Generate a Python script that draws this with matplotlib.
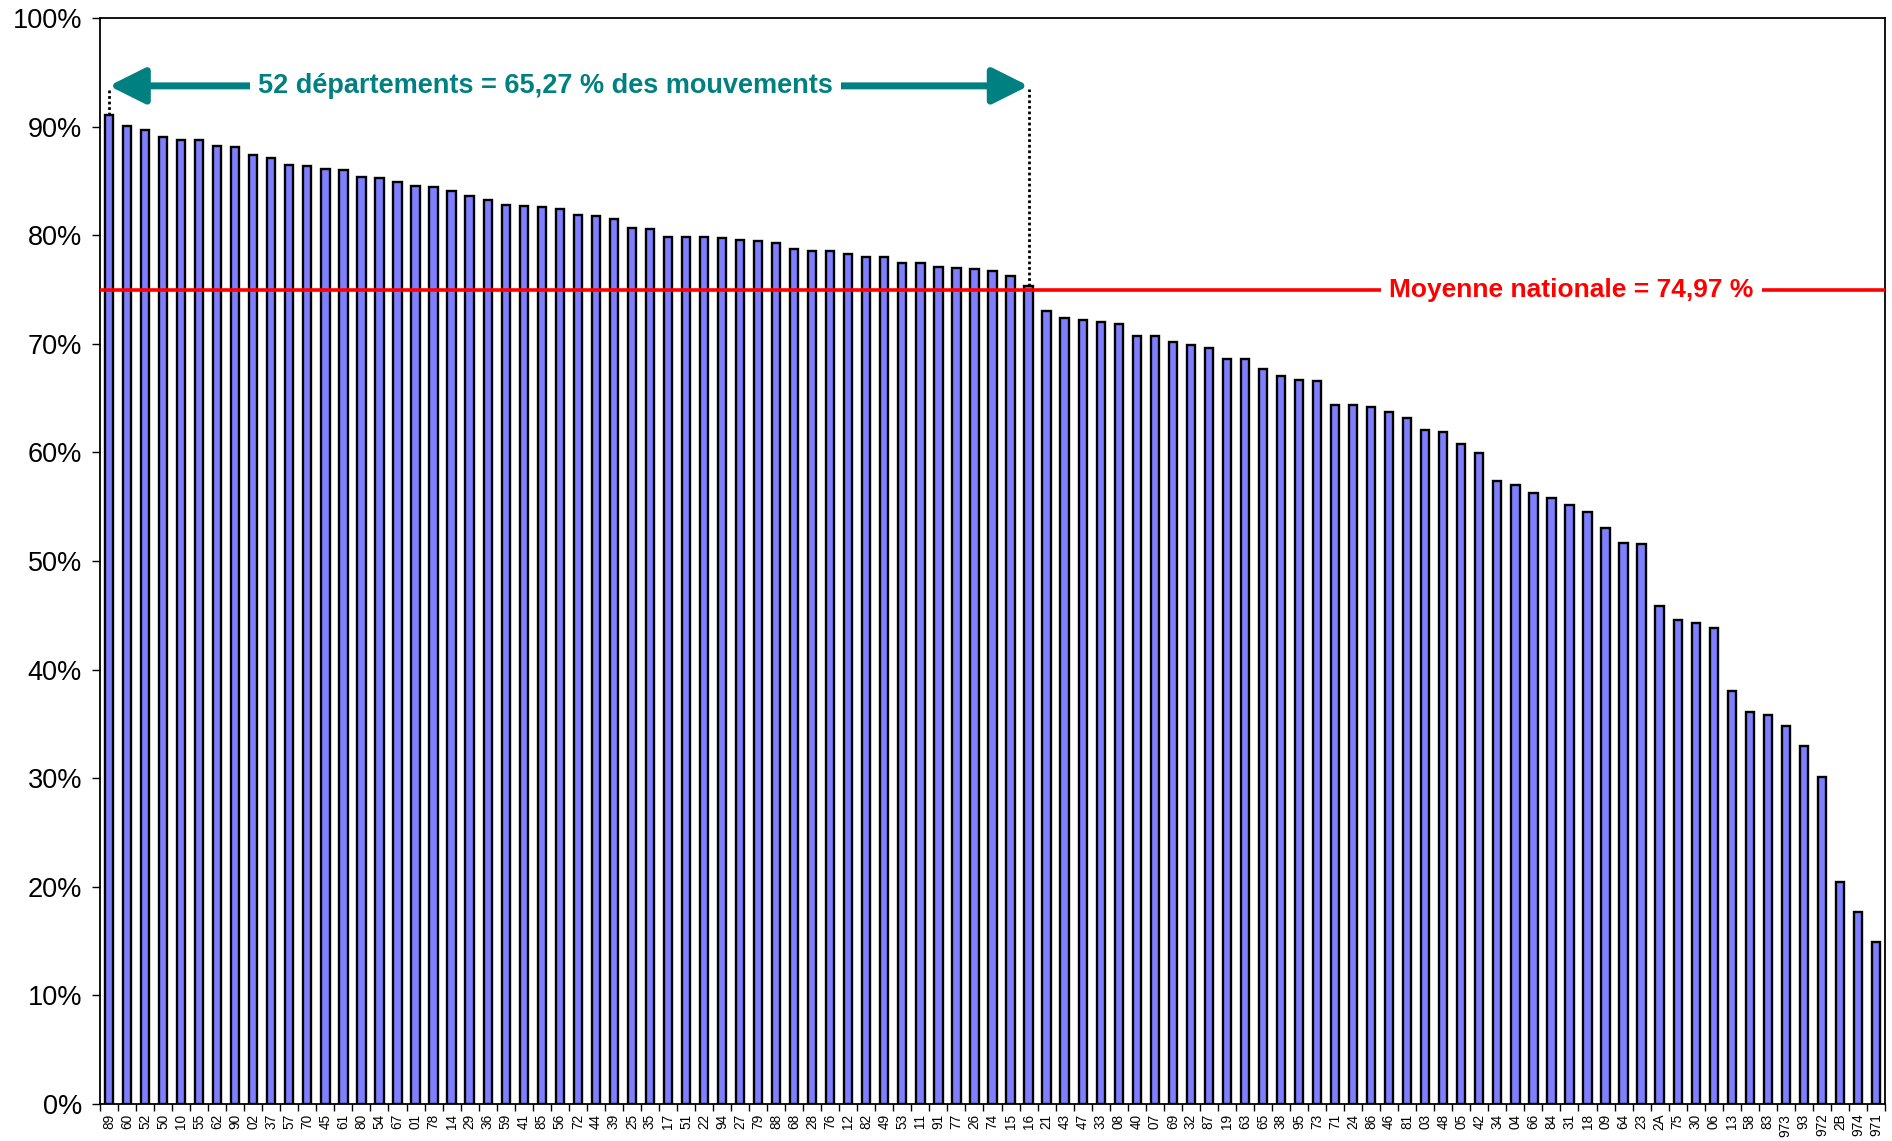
import matplotlib
matplotlib.use("Agg")
import matplotlib.pyplot as plt
import numpy as np

plt.rcParams['font.family'] = ['Liberation Sans', 'DejaVu Sans']

departements = ["89", "60", "52", "50", "10", "55", "62", "90", "02", "37", "57", "70", "45", "61", "80",
                "54", "67", "01", "78", "14", "29", "36", "59", "41", "85", "56", "72", "44", "39", "25",
                "35", "17", "51", "22", "94", "27", "79", "88", "68", "28", "76", "12", "82", "49", "53",
                "11", "91", "77", "26", "74", "15", "16", "21", "43", "47", "33", "08", "40", "07", "69",
                "32", "87", "19", "63", "65", "38", "95", "73", "71", "24", "86", "46", "81", "03", "48",
                "05", "42", "34", "04", "66", "84", "31", "18", "09", "64", "23", "2A", "75", "30", "06",
                "13", "58", "83", "973", "93", "972", "2B", "974", "971"]

taux = [91.1, 90.1, 89.7, 89.0, 88.8, 88.8, 88.2, 88.1, 87.4, 87.1, 86.5, 86.4, 86.1, 86.0, 85.4,
        85.3, 84.9, 84.5, 84.4, 84.1, 83.6, 83.2, 82.8, 82.7, 82.6, 82.4, 81.9, 81.8, 81.5, 80.7,
        80.6, 79.8, 79.8, 79.8, 79.7, 79.6, 79.5, 79.3, 78.7, 78.5, 78.5, 78.3, 78.0, 78.0, 77.4,
        77.4, 77.1, 77.0, 76.9, 76.7, 76.2, 75.3, 73.0, 72.4, 72.2, 72.0, 71.8, 70.7, 70.7, 70.2,
        69.9, 69.6, 68.6, 68.6, 67.7, 67.0, 66.7, 66.6, 64.4, 64.4, 64.2, 63.7, 63.2, 62.1, 61.9,
        60.8, 59.9, 57.4, 57.0, 56.3, 55.8, 55.2, 54.5, 53.0, 51.7, 51.6, 45.9, 44.6, 44.3, 43.8,
        38.0, 36.1, 35.8, 34.8, 33.0, 30.1, 20.4, 17.7, 14.9]

moyenne = 74.97
n_top = 52
label_moyenne = "Moyenne nationale = 74,97 %"
label_top = "52 départements = 65,27 % des mouvements"
yticks = [0, 10, 20, 30, 40, 50, 60, 70, 80, 90, 100]

teal = "#008080"

fig = plt.figure(figsize=(18.92, 11.41), dpi=100)
ax = fig.add_axes([100/1892, 1 - 1104/1141, 1785/1892, 1086/1141])

x = np.arange(len(departements))
ax.bar(x, taux, width=0.46, color="#7F7FFF", edgecolor="black", linewidth=1.7, zorder=3)

ax.set_xlim(-0.5, len(departements) - 0.5)
ax.set_ylim(0, 100)

ax.set_yticks(yticks)
ax.set_yticklabels([f"{v}%" for v in yticks], fontsize=19.5)
ax.tick_params(axis='y', length=6, width=1, pad=7)

ax.set_xticks(x)
ax.set_xticklabels(departements, rotation=90, fontsize=9.8)
ax.tick_params(axis='x', which='major', length=0, pad=7)
ax.set_xticks(np.arange(-0.5, len(departements)), minor=True)
ax.tick_params(axis='x', which='minor', length=5, width=1)

for s in ax.spines.values():
    s.set_linewidth(1.3)

# national average line
ax.axhline(moyenne, color="#FF0000", linewidth=2.6, zorder=4)
ax.text(81.1, moyenne, label_moyenne, color="#FF0000", fontsize=19, fontweight="bold",
        ha="center", va="center", zorder=6,
        bbox=dict(facecolor="white", edgecolor="none", pad=6))

# top departments arrow
y_arrow = 93.75
ax.plot([0, 0], [taux[0], y_arrow - 0.3], color="black", linestyle=(0, (1, 1)), linewidth=2, zorder=4)
ax.plot([n_top - 1, n_top - 1], [taux[n_top - 1], y_arrow - 0.3], color="black",
        linestyle=(0, (1, 1)), linewidth=2, zorder=4)
ax.annotate("", xy=(0, y_arrow), xytext=(n_top - 1, y_arrow),
            arrowprops=dict(arrowstyle="<|-|>,head_length=2.2,head_width=1.1", color=teal,
                            linewidth=5, shrinkA=0, shrinkB=0), zorder=5)
ax.text(24.2, y_arrow, label_top, color=teal, fontsize=19.5, fontweight="bold",
        ha="center", va="center", zorder=6,
        bbox=dict(facecolor="white", edgecolor="none", pad=6))

fig.savefig("out.png", dpi=100)
